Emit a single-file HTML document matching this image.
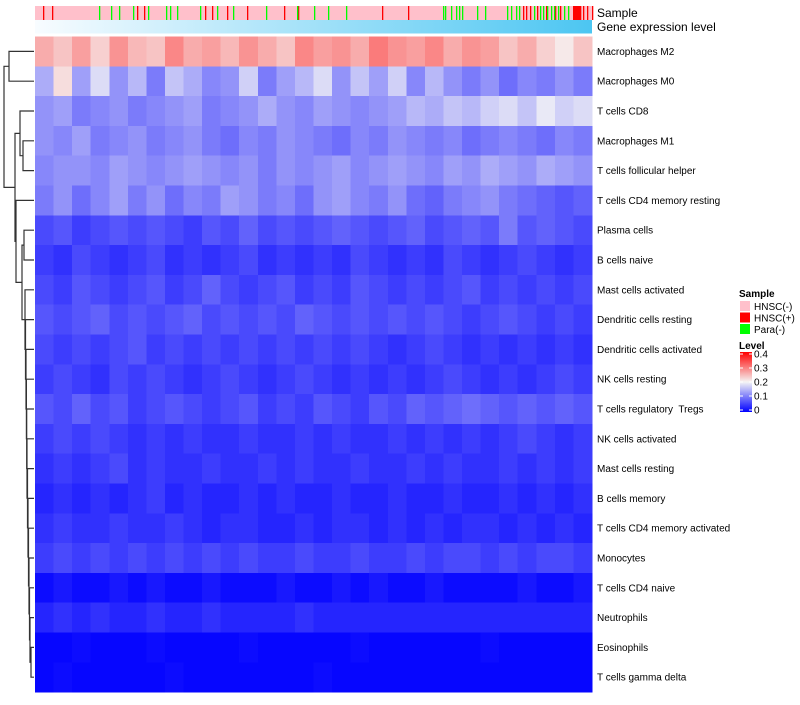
<!DOCTYPE html>
<html><head><meta charset="utf-8"><style>
body{margin:0;background:#fff;width:800px;height:700px;overflow:hidden;font-family:"Liberation Sans",sans-serif}
svg text{font-family:"Liberation Sans",sans-serif;white-space:pre}
</style></head><body>
<svg id="chart" width="800" height="700" xmlns="http://www.w3.org/2000/svg"></svg>
<script>
const rowNames=["Macrophages M2","Macrophages M0","T cells CD8","Macrophages M1","T cells follicular helper","T cells CD4 memory resting","Plasma cells","B cells naive","Mast cells activated","Dendritic cells resting","Dendritic cells activated","NK cells resting","T cells regulatory  Tregs","NK cells activated","Mast cells resting","B cells memory","T cells CD4 memory activated","Monocytes","T cells CD4 naive","Neutrophils","Eosinophils","T cells gamma delta"];
const rowValues=[
[0.26,0.24,0.27,0.23,0.28,0.25,0.24,0.29,0.26,0.27,0.25,0.28,0.26,0.24,0.29,0.27,0.28,0.26,0.30,0.28,0.27,0.29,0.26,0.28,0.27,0.24,0.26,0.23,0.21,0.24],
[0.14,0.22,0.13,0.18,0.12,0.15,0.10,0.16,0.14,0.11,0.12,0.17,0.10,0.13,0.15,0.18,0.12,0.16,0.13,0.17,0.11,0.15,0.12,0.10,0.12,0.09,0.11,0.10,0.12,0.10],
[0.12,0.13,0.10,0.11,0.12,0.10,0.11,0.12,0.13,0.10,0.11,0.12,0.14,0.12,0.11,0.13,0.12,0.11,0.12,0.13,0.15,0.14,0.16,0.15,0.17,0.18,0.16,0.19,0.17,0.18],
[0.12,0.11,0.13,0.10,0.11,0.12,0.10,0.11,0.12,0.10,0.09,0.11,0.10,0.12,0.11,0.10,0.09,0.11,0.10,0.12,0.11,0.10,0.11,0.09,0.10,0.11,0.10,0.09,0.11,0.10],
[0.11,0.12,0.12,0.11,0.13,0.12,0.11,0.12,0.13,0.12,0.11,0.12,0.10,0.12,0.11,0.12,0.13,0.11,0.12,0.13,0.12,0.11,0.13,0.12,0.14,0.13,0.12,0.14,0.13,0.12],
[0.10,0.12,0.09,0.11,0.13,0.10,0.12,0.09,0.11,0.10,0.13,0.12,0.10,0.11,0.09,0.12,0.13,0.11,0.10,0.12,0.09,0.08,0.10,0.11,0.12,0.10,0.09,0.08,0.07,0.08],
[0.06,0.07,0.05,0.06,0.07,0.06,0.07,0.06,0.05,0.07,0.06,0.08,0.06,0.07,0.06,0.07,0.08,0.07,0.06,0.07,0.08,0.06,0.07,0.08,0.07,0.10,0.07,0.08,0.07,0.06],
[0.05,0.04,0.06,0.05,0.04,0.05,0.06,0.04,0.05,0.04,0.05,0.06,0.04,0.05,0.04,0.05,0.04,0.06,0.05,0.04,0.05,0.04,0.06,0.05,0.04,0.05,0.06,0.05,0.04,0.05],
[0.06,0.05,0.07,0.06,0.05,0.06,0.07,0.05,0.06,0.08,0.06,0.05,0.06,0.07,0.05,0.06,0.05,0.07,0.06,0.05,0.06,0.05,0.06,0.07,0.05,0.06,0.05,0.06,0.05,0.06],
[0.07,0.06,0.07,0.08,0.06,0.07,0.06,0.07,0.08,0.06,0.07,0.06,0.07,0.06,0.08,0.07,0.06,0.07,0.06,0.07,0.06,0.07,0.06,0.05,0.06,0.07,0.06,0.05,0.06,0.05],
[0.06,0.05,0.06,0.05,0.06,0.07,0.05,0.06,0.05,0.06,0.05,0.06,0.05,0.06,0.05,0.06,0.05,0.06,0.05,0.04,0.05,0.06,0.05,0.04,0.05,0.04,0.05,0.04,0.05,0.04],
[0.05,0.06,0.05,0.04,0.06,0.05,0.06,0.05,0.04,0.05,0.06,0.05,0.04,0.05,0.06,0.05,0.04,0.05,0.04,0.05,0.04,0.05,0.06,0.05,0.04,0.05,0.04,0.05,0.06,0.05],
[0.07,0.06,0.08,0.06,0.07,0.05,0.06,0.07,0.06,0.05,0.06,0.07,0.05,0.06,0.05,0.07,0.06,0.05,0.07,0.06,0.08,0.07,0.08,0.09,0.08,0.07,0.08,0.07,0.08,0.07],
[0.05,0.06,0.05,0.06,0.05,0.04,0.05,0.04,0.05,0.04,0.04,0.05,0.04,0.04,0.05,0.04,0.05,0.04,0.04,0.05,0.04,0.05,0.04,0.05,0.04,0.05,0.06,0.05,0.04,0.05],
[0.04,0.05,0.04,0.05,0.06,0.04,0.05,0.04,0.04,0.05,0.04,0.04,0.05,0.04,0.05,0.04,0.04,0.05,0.04,0.04,0.05,0.04,0.05,0.04,0.04,0.05,0.04,0.05,0.04,0.05],
[0.03,0.04,0.03,0.04,0.03,0.04,0.05,0.03,0.04,0.03,0.03,0.04,0.03,0.04,0.03,0.03,0.04,0.03,0.03,0.04,0.03,0.03,0.04,0.03,0.03,0.04,0.03,0.04,0.03,0.04],
[0.04,0.05,0.04,0.04,0.05,0.04,0.04,0.05,0.04,0.03,0.04,0.04,0.03,0.03,0.04,0.03,0.04,0.04,0.03,0.04,0.03,0.04,0.03,0.04,0.04,0.03,0.04,0.03,0.04,0.03],
[0.05,0.06,0.05,0.06,0.05,0.06,0.05,0.06,0.05,0.06,0.05,0.06,0.05,0.05,0.06,0.05,0.05,0.06,0.05,0.05,0.06,0.05,0.06,0.06,0.05,0.06,0.05,0.06,0.06,0.05],
[0.01,0.02,0.01,0.01,0.02,0.01,0.02,0.01,0.01,0.02,0.01,0.01,0.01,0.02,0.01,0.01,0.02,0.01,0.02,0.01,0.01,0.02,0.01,0.01,0.01,0.01,0.02,0.01,0.01,0.02],
[0.03,0.04,0.03,0.04,0.03,0.03,0.04,0.03,0.03,0.04,0.03,0.03,0.03,0.03,0.04,0.03,0.03,0.03,0.03,0.03,0.03,0.03,0.03,0.03,0.03,0.03,0.03,0.03,0.03,0.03],
[0.005,0.005,0.01,0.005,0.005,0.005,0.01,0.005,0.005,0.005,0.005,0.01,0.005,0.005,0.005,0.005,0.005,0.01,0.005,0.005,0.005,0.005,0.005,0.005,0.01,0.005,0.005,0.005,0.005,0.005],
[0.005,0.01,0.005,0.005,0.005,0.005,0.005,0.01,0.005,0.005,0.005,0.005,0.005,0.005,0.005,0.01,0.005,0.005,0.005,0.005,0.005,0.005,0.005,0.005,0.005,0.005,0.005,0.005,0.005,0.005]];
const sampleCount=557;
const redSamples=[8,17,102,109,170,177,192,212,249,263,347,373,488,491,495,502,511,520,525,538,539,540,541,542,543,544,545,548,552,557];
const greenSamples=[64,76,84,98,113,131,135,142,165,182,198,231,262,279,293,311,408,410,416,421,424,427,442,450,472,476,481,484,499,505,508,512,516,519,523,529,533];
const legendLabels=["HNSC(-)","HNSC(+)","Para(-)"];
const legendColors=["#ffc0cb","#ff0000","#00ff00"];
const levelTicks=[0,0.1,0.2,0.3,0.4];
const merges=[
[0,1,25],[3,4,11],[2,23,14],[20,21,3],[19,25,4],[18,26,4.5],[17,27,5],[16,28,5.5],[15,29,6],[14,30,6.5],[13,31,7],[12,32,7.3],[11,33,7.6],[10,34,8],[9,35,8.5],[8,36,9],[6,7,10],[37,38,12],[5,39,18],[24,40,19],[22,41,30]];

const svg=document.getElementById('chart');
const NS='http://www.w3.org/2000/svg';
function el(tag,attrs,parent){const e=document.createElementNS(NS,tag);for(const k in attrs)e.setAttribute(k,attrs[k]);(parent||svg).appendChild(e);return e;}
const X0=35,X1=592,Y0=36.5,RH=29.8;
const xS=i=>X0+(X1-X0)*i/sampleCount;
const yRow=r=>Y0+r*RH;
function col(v){v=Math.max(0,Math.min(0.4,v));let a,b,t;
 if(v<=0.2){t=v/0.2;a=[0,0,255];b=[245,245,245];}else{t=(v-0.2)/0.2;a=[245,245,245];b=[255,0,0];}
 return 'rgb('+a.map((c,i)=>Math.round(c+(b[i]-c)*t)).join(',')+')';}

const sg=el('g',{});


el('rect',{x:X0,y:6,width:X1-X0,height:14,fill:'#ffc0cb'},sg);
redSamples.forEach(s=>{const r=el('rect',{x:xS(s),y:6,width:1.3,height:14,fill:'#ff0000'},sg);
 
 });
greenSamples.forEach(s=>{const r=el('rect',{x:xS(s),y:6,width:1.3,height:14,fill:'#00ff00'},sg);
 
 });
const defs=el('defs',{});
const lg=el('linearGradient',{id:'gl',x1:0,x2:1,y1:0,y2:0},defs);
el('stop',{offset:0,'stop-color':'#f8fcff'},lg);el('stop',{offset:1,'stop-color':'#4cc6f2'},lg);
const cg=el('linearGradient',{id:'cb',x1:0,x2:0,y1:1,y2:0},defs);
el('stop',{offset:0,'stop-color':'#0000ff'},cg);el('stop',{offset:0.5,'stop-color':'#f5f5f5'},cg);el('stop',{offset:1,'stop-color':'#ff0000'},cg);
const ge=el('rect',{x:X0,y:20,width:X1-X0,height:13.5,fill:'url(#gl)'});


let t=el('text',{x:597,y:17,'font-size':12});t.textContent='Sample';


t=el('text',{x:597,y:31,'font-size':12});t.textContent='Gene expression level';



const hg=el('g',{'shape-rendering':'crispEdges'});


rowValues.forEach((vals,r)=>{const n=vals.length;
 vals.forEach((v,c)=>{const x=X0+(X1-X0)*c/n,w=(X1-X0)/n;
  const cell=el('rect',{x:x,y:yRow(r),width:w+0.5,height:RH+0.5,fill:col(v)},hg);
  
  });
 const lb=el('text',{x:597,y:yRow(r)+RH/2+3.5,'font-size':10});lb.textContent=rowNames[r];
 
 });

const pos={};for(let i=0;i<22;i++)pos[i]={y:yRow(i)+RH/2,h:0};
const dg=el('g',{stroke:'#333','stroke-width':1.2,fill:'none'});


const hx=h=>34-h;
merges.forEach((m,k)=>{const a=pos[m[0]],b=pos[m[1]],x=hx(m[2]);
 el('path',{d:`M${hx(a.h)},${a.y}H${x}V${b.y}H${hx(b.h)}`},dg);
 pos[22+k]={y:(a.y+b.y)/2,h:m[2]};});

const lgG=el('g',{});


t=el('text',{x:739,y:297,'font-size':10,'font-weight':'bold'},lgG);t.textContent='Sample';
legendLabels.forEach((l,i)=>{el('rect',{x:740,y:301+i*11.5,width:10,height:10,fill:legendColors[i]},lgG);
 const tx=el('text',{x:754,y:310+i*11.5,'font-size':10},lgG);tx.textContent=l;
 
 });
t=el('text',{x:739,y:349,'font-size':10,'font-weight':'bold'},lgG);t.textContent='Level';
el('rect',{x:740,y:352,width:12,height:60,fill:'url(#cb)'},lgG);
levelTicks.forEach(v=>{const y=412-v/0.4*56-2;
 el('line',{x1:740,x2:743,y1:y,y2:y,stroke:'#fff'},lgG);el('line',{x1:749,x2:752,y1:y,y2:y,stroke:'#fff'},lgG);
 const tx=el('text',{x:754,y:y+3.5,'font-size':10},lgG);tx.textContent=String(v);
 
 });
</script>
</body></html>
